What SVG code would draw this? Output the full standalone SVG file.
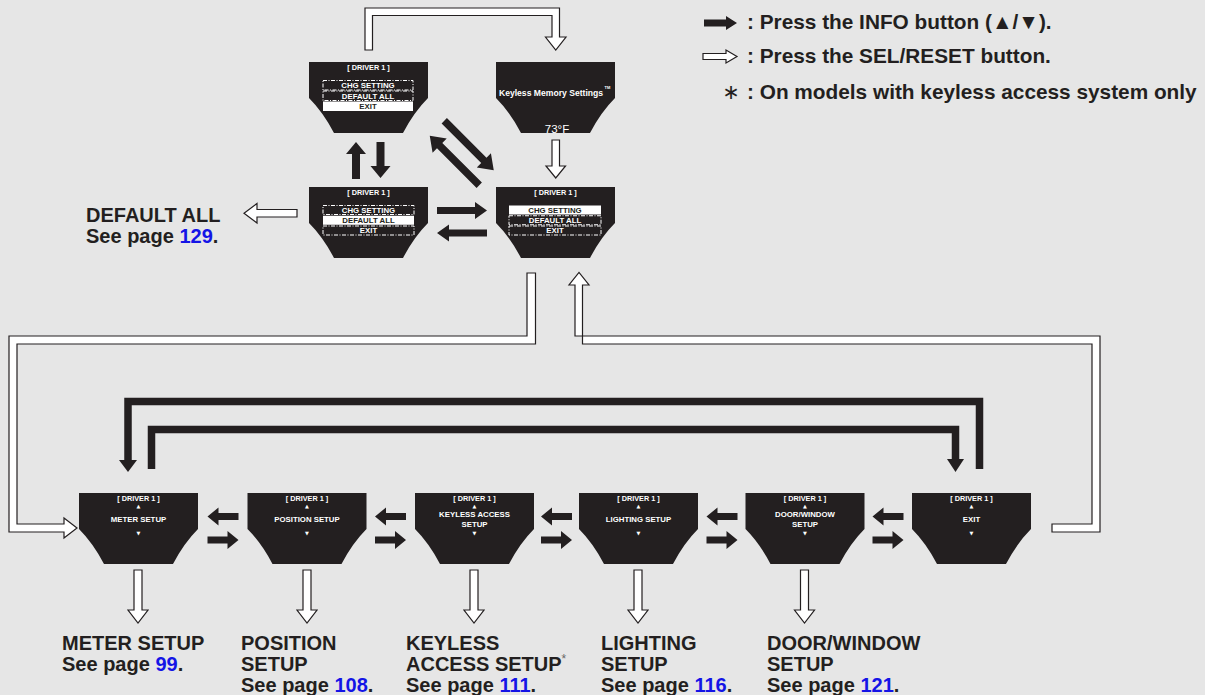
<svg xmlns="http://www.w3.org/2000/svg" width="1205" height="695" viewBox="0 0 1205 695">
<style>
.bg{fill:#e6e6e6}
.scr{fill:#231f20}
.blk{fill:#231f20}
.hol{fill:#fff;stroke:#231f20;stroke-width:1.2;stroke-linejoin:miter}
.loop{fill:none;stroke:#231f20;stroke-width:7.5;stroke-linejoin:miter}
.st{font-family:"Liberation Sans",Arial,sans-serif;font-weight:bold;fill:#fff;text-anchor:middle;font-size:7.8px}
.dr{font-size:7.3px}
.inv{fill:#231f20}
.tri{font-family:"DejaVu Sans",sans-serif;font-size:5px;fill:#fff;text-anchor:middle}
.box{fill:none;stroke:#fff;stroke-width:1;stroke-dasharray:4 1.5 1 1.5}
.sel{fill:#fff}
.lb{font-family:"Liberation Sans",Arial,sans-serif;font-weight:bold;font-size:20px;fill:#231f20}
.lg{font-size:20.8px}
.lk{fill:#1414e6}
.ast{fill:#666;font-size:12px;font-weight:normal}
</style>
<defs>
<path id="scr" d="M0,0 h119 v36 q-14,14 -25,35 h-69 q-11,-21 -25,-35 z"/>
<polygon id="bl" points="15.5,-3.6 -4.5,-3.6 -4.5,-9 -15.5,0 -4.5,9 -4.5,3.6 15.5,3.6"/>
<polygon id="br" points="-15.5,-3.6 4.5,-3.6 4.5,-9 15.5,0 4.5,9 4.5,3.6 -15.5,3.6"/>
<polygon id="dg" points="-35,-3.75 21,-3.75 21,-10 35,0 21,10 21,3.75 -35,3.75"/>
<polygon id="hd" points="-4,0 4,0 4,40 10,40 0,53 -10,40 -4,40"/>
</defs>
<rect class="bg" x="0" y="0" width="1205" height="695"/>

<g id="legend">
<polygon class="blk" points="704,19.5 726,19.5 726,16 737,23 726,30 726,26.5 704,26.5"/>
<text class="lb lg" x="747" y="29">: Press the INFO button (▲/▼).</text>
<polygon class="hol" points="703,53.5 726,53.5 726,50 737,56.5 726,63 726,59.5 703,59.5"/>
<text class="lb lg" x="747" y="63">: Press the SEL/RESET button.</text>
<text class="lb lg" x="731" y="99" style="font-family:'DejaVu Sans',sans-serif;font-weight:normal" text-anchor="middle">∗</text>
<text class="lb lg" x="747" y="99">: On models with keyless access system only</text>
</g>

<g id="connectors">
<polygon class="hol" points="365,50 365,8 559.5,8 559.5,37 566,37 555.75,50 545.5,37 552,37 552,15.5 372.5,15.5 372.5,50"/>
<polygon class="hol" points="552,140 559.5,140 559.5,166 565.5,166 555.75,178 546,166 552,166"/>
<polygon class="hol" points="297,209.5 297,217 257,217 257,223 244,213.25 257,203.5 257,209.5"/>
<polygon class="hol" points="527,273 535.5,273 535.5,344 17,344 17,524 64,524 64,518 77,528 64,538 64,532 9,532 9,336 527,336"/>
<polygon class="hol" points="1052,524 1092,524 1092,344 582.5,344 582.5,285 589,285 579,272.5 569,285 575,285 575,336 1100,336 1100,532 1052,532"/>
<use href="#hd" class="hol" x="138" y="570"/>
<use href="#hd" class="hol" x="307" y="570"/>
<use href="#hd" class="hol" x="474" y="570"/>
<use href="#hd" class="hol" x="638" y="570"/>
<use href="#hd" class="hol" x="804.5" y="570"/>
<polygon class="blk" points="356,142 366,154 360,154 360,179 352,179 352,154 346,154"/>
<polygon class="blk" points="376.5,142 384.5,142 384.5,166 390.5,166 380.5,178 370.5,166 376.5,166"/>
<use href="#dg" class="blk" transform="translate(469,145.5) rotate(45)"/>
<use href="#dg" class="blk" transform="translate(454.5,160.5) rotate(225)"/>
<polygon class="blk" points="437,207 475,207 475,202 487,210.5 475,219 475,214 437,214"/>
<polygon class="blk" points="487,229.5 449,229.5 449,224.5 437,233 449,241.5 449,236.5 487,236.5"/>
<use href="#bl" class="blk" x="223" y="516.5"/>
<use href="#br" class="blk" x="223" y="540"/>
<use href="#bl" class="blk" x="390.5" y="516.5"/>
<use href="#br" class="blk" x="390.5" y="540"/>
<use href="#bl" class="blk" x="556.5" y="516.5"/>
<use href="#br" class="blk" x="556.5" y="540"/>
<use href="#bl" class="blk" x="722" y="516.5"/>
<use href="#br" class="blk" x="722" y="540"/>
<use href="#bl" class="blk" x="888" y="516.5"/>
<use href="#br" class="blk" x="888" y="540"/>
<path class="loop" d="M979.5,469 V401.5 H128 V461"/>
<polygon class="blk" points="119,460 137,460 128,472"/>
<path class="loop" d="M151.5,469 V429.5 H955.5 V460"/>
<polygon class="blk" points="947,459 964,459 955.5,472"/>
</g>

<g id="screen-menu-exit">
<use href="#scr" class="scr" x="309" y="62"/>
<text class="st dr" x="368.5" y="69.5">[ DRIVER 1 ]</text>
<rect class="box" x="323" y="80.5" width="90" height="9.5"/>
<rect class="box" x="323" y="91" width="90" height="9.5"/>
<rect class="sel" x="323" y="101.5" width="90" height="9.5"/>
<text class="st" x="368" y="88.3">CHG SETTING</text>
<text class="st" x="368" y="98.8">DEFAULT ALL</text>
<text class="st inv" x="368" y="109.3">EXIT</text>
</g>

<g id="screen-keyless-memory">
<use href="#scr" class="scr" x="496" y="62"/>
<text class="st" x="551" y="96" style="font-size:8.6px">Keyless Memory Settings</text>
<text class="st" x="607.5" y="88.5" style="font-size:4px">TM</text>
<text class="st" x="557" y="132.5" style="font-size:11.5px;font-weight:normal">73°F</text>
</g>

<g id="screen-menu-default">
<use href="#scr" class="scr" x="309" y="187"/>
<text class="st dr" x="368.5" y="194.5">[ DRIVER 1 ]</text>
<rect class="box" x="323" y="205.5" width="91" height="9"/>
<rect class="sel" x="323" y="215.75" width="91" height="9"/>
<rect class="box" x="323" y="226" width="91" height="9"/>
<text class="st" x="368.5" y="212.9">CHG SETTING</text>
<text class="st inv" x="368.5" y="223.1">DEFAULT ALL</text>
<text class="st" x="368.5" y="233.4">EXIT</text>
</g>

<g id="screen-menu-chg">
<use href="#scr" class="scr" x="496" y="187"/>
<text class="st dr" x="555.5" y="194.5">[ DRIVER 1 ]</text>
<rect class="sel" x="509" y="205.5" width="92" height="9"/>
<rect class="box" x="509" y="215.75" width="92" height="9"/>
<rect class="box" x="509" y="226" width="92" height="9"/>
<text class="st inv" x="555" y="212.9">CHG SETTING</text>
<text class="st" x="555" y="223.1">DEFAULT ALL</text>
<text class="st" x="555" y="233.4">EXIT</text>
</g>

<g id="screen-meter-setup">
<use href="#scr" class="scr" x="79" y="493"/>
<text class="st dr" x="138.5" y="500.5">[ DRIVER 1 ]</text>
<text class="tri" x="138.5" y="507.5">▲</text>
<text class="st" x="138.5" y="522">METER SETUP</text>
<text class="tri" x="138.5" y="534.5">▼</text>
</g>
<g id="screen-position-setup">
<use href="#scr" class="scr" x="247.5" y="493"/>
<text class="st dr" x="307" y="500.5">[ DRIVER 1 ]</text>
<text class="tri" x="307" y="507.5">▲</text>
<text class="st" x="307" y="522">POSITION SETUP</text>
<text class="tri" x="307" y="534.5">▼</text>
</g>
<g id="screen-keyless-access-setup">
<use href="#scr" class="scr" x="415" y="493"/>
<text class="st dr" x="474.5" y="500.5">[ DRIVER 1 ]</text>
<text class="tri" x="474.5" y="507.5">▲</text>
<text class="st" x="474.5" y="517.3">KEYLESS ACCESS</text>
<text class="st" x="474.5" y="526.7">SETUP</text>
<text class="tri" x="474.5" y="534.5">▼</text>
</g>
<g id="screen-lighting-setup">
<use href="#scr" class="scr" x="579" y="493"/>
<text class="st dr" x="638.5" y="500.5">[ DRIVER 1 ]</text>
<text class="tri" x="638.5" y="507.5">▲</text>
<text class="st" x="638.5" y="522">LIGHTING SETUP</text>
<text class="tri" x="638.5" y="534.5">▼</text>
</g>
<g id="screen-door-window-setup">
<use href="#scr" class="scr" x="745.5" y="493"/>
<text class="st dr" x="805" y="500.5">[ DRIVER 1 ]</text>
<text class="tri" x="805" y="507.5">▲</text>
<text class="st" x="805" y="517.3">DOOR/WINDOW</text>
<text class="st" x="805" y="526.7">SETUP</text>
<text class="tri" x="805" y="534.5">▼</text>
</g>
<g id="screen-exit">
<use href="#scr" class="scr" x="912" y="493"/>
<text class="st dr" x="971.5" y="500.5">[ DRIVER 1 ]</text>
<text class="tri" x="971.5" y="507.5">▲</text>
<text class="st" x="971.5" y="522">EXIT</text>
<text class="tri" x="971.5" y="534.5">▼</text>
</g>

<g id="label-default-all">
<text class="lb" x="86" y="222">DEFAULT ALL</text>
<text class="lb" x="86" y="243">See page <tspan class="lk">129</tspan>.</text>
</g>
<g id="label-meter-setup">
<text class="lb" x="62" y="650">METER SETUP</text>
<text class="lb" x="62" y="671">See page <tspan class="lk">99</tspan>.</text>
</g>
<g id="label-position-setup">
<text class="lb" x="241" y="650">POSITION</text>
<text class="lb" x="241" y="671">SETUP</text>
<text class="lb" x="241" y="692">See page <tspan class="lk">108</tspan>.</text>
</g>
<g id="label-keyless-access-setup">
<text class="lb" x="406" y="650">KEYLESS</text>
<text class="lb" x="406" y="671">ACCESS SETUP<tspan class="ast" dy="-8">*</tspan></text>
<text class="lb" x="406" y="692">See page <tspan class="lk">111</tspan>.</text>
</g>
<g id="label-lighting-setup">
<text class="lb" x="601" y="650">LIGHTING</text>
<text class="lb" x="601" y="671">SETUP</text>
<text class="lb" x="601" y="692">See page <tspan class="lk">116</tspan>.</text>
</g>
<g id="label-door-window-setup">
<text class="lb" x="767" y="650">DOOR/WINDOW</text>
<text class="lb" x="767" y="671">SETUP</text>
<text class="lb" x="767" y="692">See page <tspan class="lk">121</tspan>.</text>
</g>
</svg>
